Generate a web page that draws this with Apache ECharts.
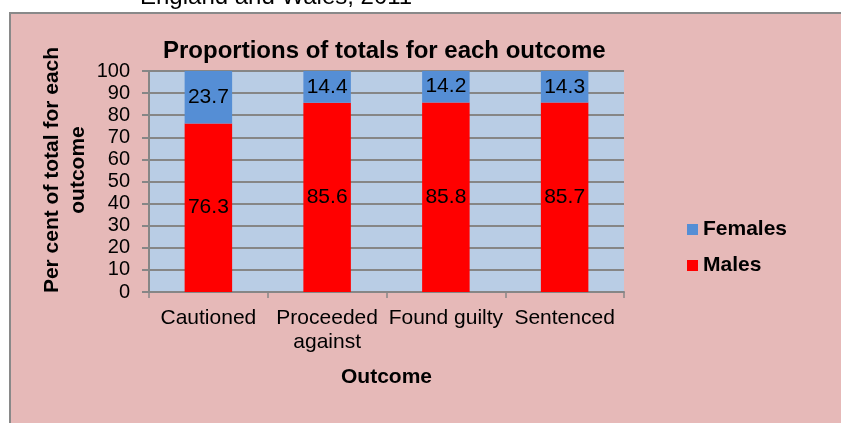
<!DOCTYPE html>
<html>
<head>
<meta charset="utf-8">
<script src="https://cdn.jsdelivr.net/npm/echarts@6/dist/echarts.min.js"></script>
<style>
  html, body { margin: 0; padding: 0; background: #fff; }
  #chart { width: 841px; height: 423px; }
</style>
</head>
<body>
<div id="chart"></div>
<script>
// data
const categories = ['Cautioned', 'Proceeded\nagainst', 'Found guilty', 'Sentenced'];
const males = [76.3, 85.6, 85.8, 85.7];
const females = [23.7, 14.4, 14.2, 14.3];

const FONT = 'Liberation Sans, Arial, sans-serif';
const chart = echarts.init(document.getElementById('chart'));

const option = {
  backgroundColor: '#ffffff',
  animation: false,
  textStyle: { fontFamily: FONT },
  graphic: [
    {
      // subtitle from the page above, cut off by the frame
      type: 'text', left: 140, top: -15, z: 1,
      style: { text: 'England and Wales, 2011', font: '24px ' + FONT, fill: '#000' }
    },
    {
      type: 'rect', z: -10,
      shape: { x: 10, y: 13, width: 900, height: 500 },
      style: { fill: '#E6B9B8', stroke: '#898989', lineWidth: 2 }
    },
    {
      type: 'text', x: 65, y: 170, rotation: Math.PI / 2, z: 5,
      style: {
        text: 'Per cent of total for each\noutcome',
        font: 'bold 21px ' + FONT, fill: '#000',
        align: 'center', verticalAlign: 'middle', lineHeight: 26
      }
    },
    {
      type: 'text', left: 341, top: 367, z: 5,
      style: { text: 'Outcome', font: 'bold 21px ' + FONT, fill: '#000' }
    }
  ],
  title: {
    text: 'Proportions of totals for each outcome',
    left: 158, top: 34,
    textStyle: { fontSize: 24, fontWeight: 'bold', color: '#000', fontFamily: FONT }
  },
  legend: {
    data: ['Females', 'Males'],
    orient: 'vertical',
    left: 682, top: 214,
    itemWidth: 11, itemHeight: 11, itemGap: 15,
    icon: 'rect',
    textStyle: { fontSize: 21, fontWeight: 'bold', color: '#000', fontFamily: FONT }
  },
  grid: {
    left: 149, right: 217, top: 71, bottom: 131,
    show: true, backgroundColor: '#B9CDE5', borderWidth: 0
  },
  xAxis: {
    type: 'category',
    data: categories,
    axisLine: { lineStyle: { color: '#868686', width: 2 } },
    axisTick: { show: true, length: 6, lineStyle: { color: '#868686', width: 1.5 } },
    axisLabel: { fontSize: 21, color: '#000', margin: 14, lineHeight: 24, interval: 0, fontFamily: FONT }
  },
  yAxis: {
    type: 'value',
    min: 0, max: 100, interval: 10,
    axisLine: { show: true, lineStyle: { color: '#868686', width: 2 } },
    axisTick: { show: true, length: 7, lineStyle: { color: '#868686', width: 2 } },
    splitLine: { lineStyle: { color: '#868686', width: 2 } },
    axisLabel: { fontSize: 20, color: '#000', margin: 19, fontFamily: FONT }
  },
  series: [
    {
      name: 'Males', type: 'bar', stack: 'total',
      data: males, barCategoryGap: '60%',
      itemStyle: { color: '#FF0000' },
      label: { show: true, position: 'inside', fontSize: 21, color: '#000', fontFamily: FONT }
    },
    {
      name: 'Females', type: 'bar', stack: 'total',
      data: females, barCategoryGap: '60%',
      itemStyle: { color: '#558ED5' },
      label: { show: true, position: 'inside', fontSize: 21, color: '#000', fontFamily: FONT }
    }
  ]
};
chart.setOption(option);
</script>
</body>
</html>
